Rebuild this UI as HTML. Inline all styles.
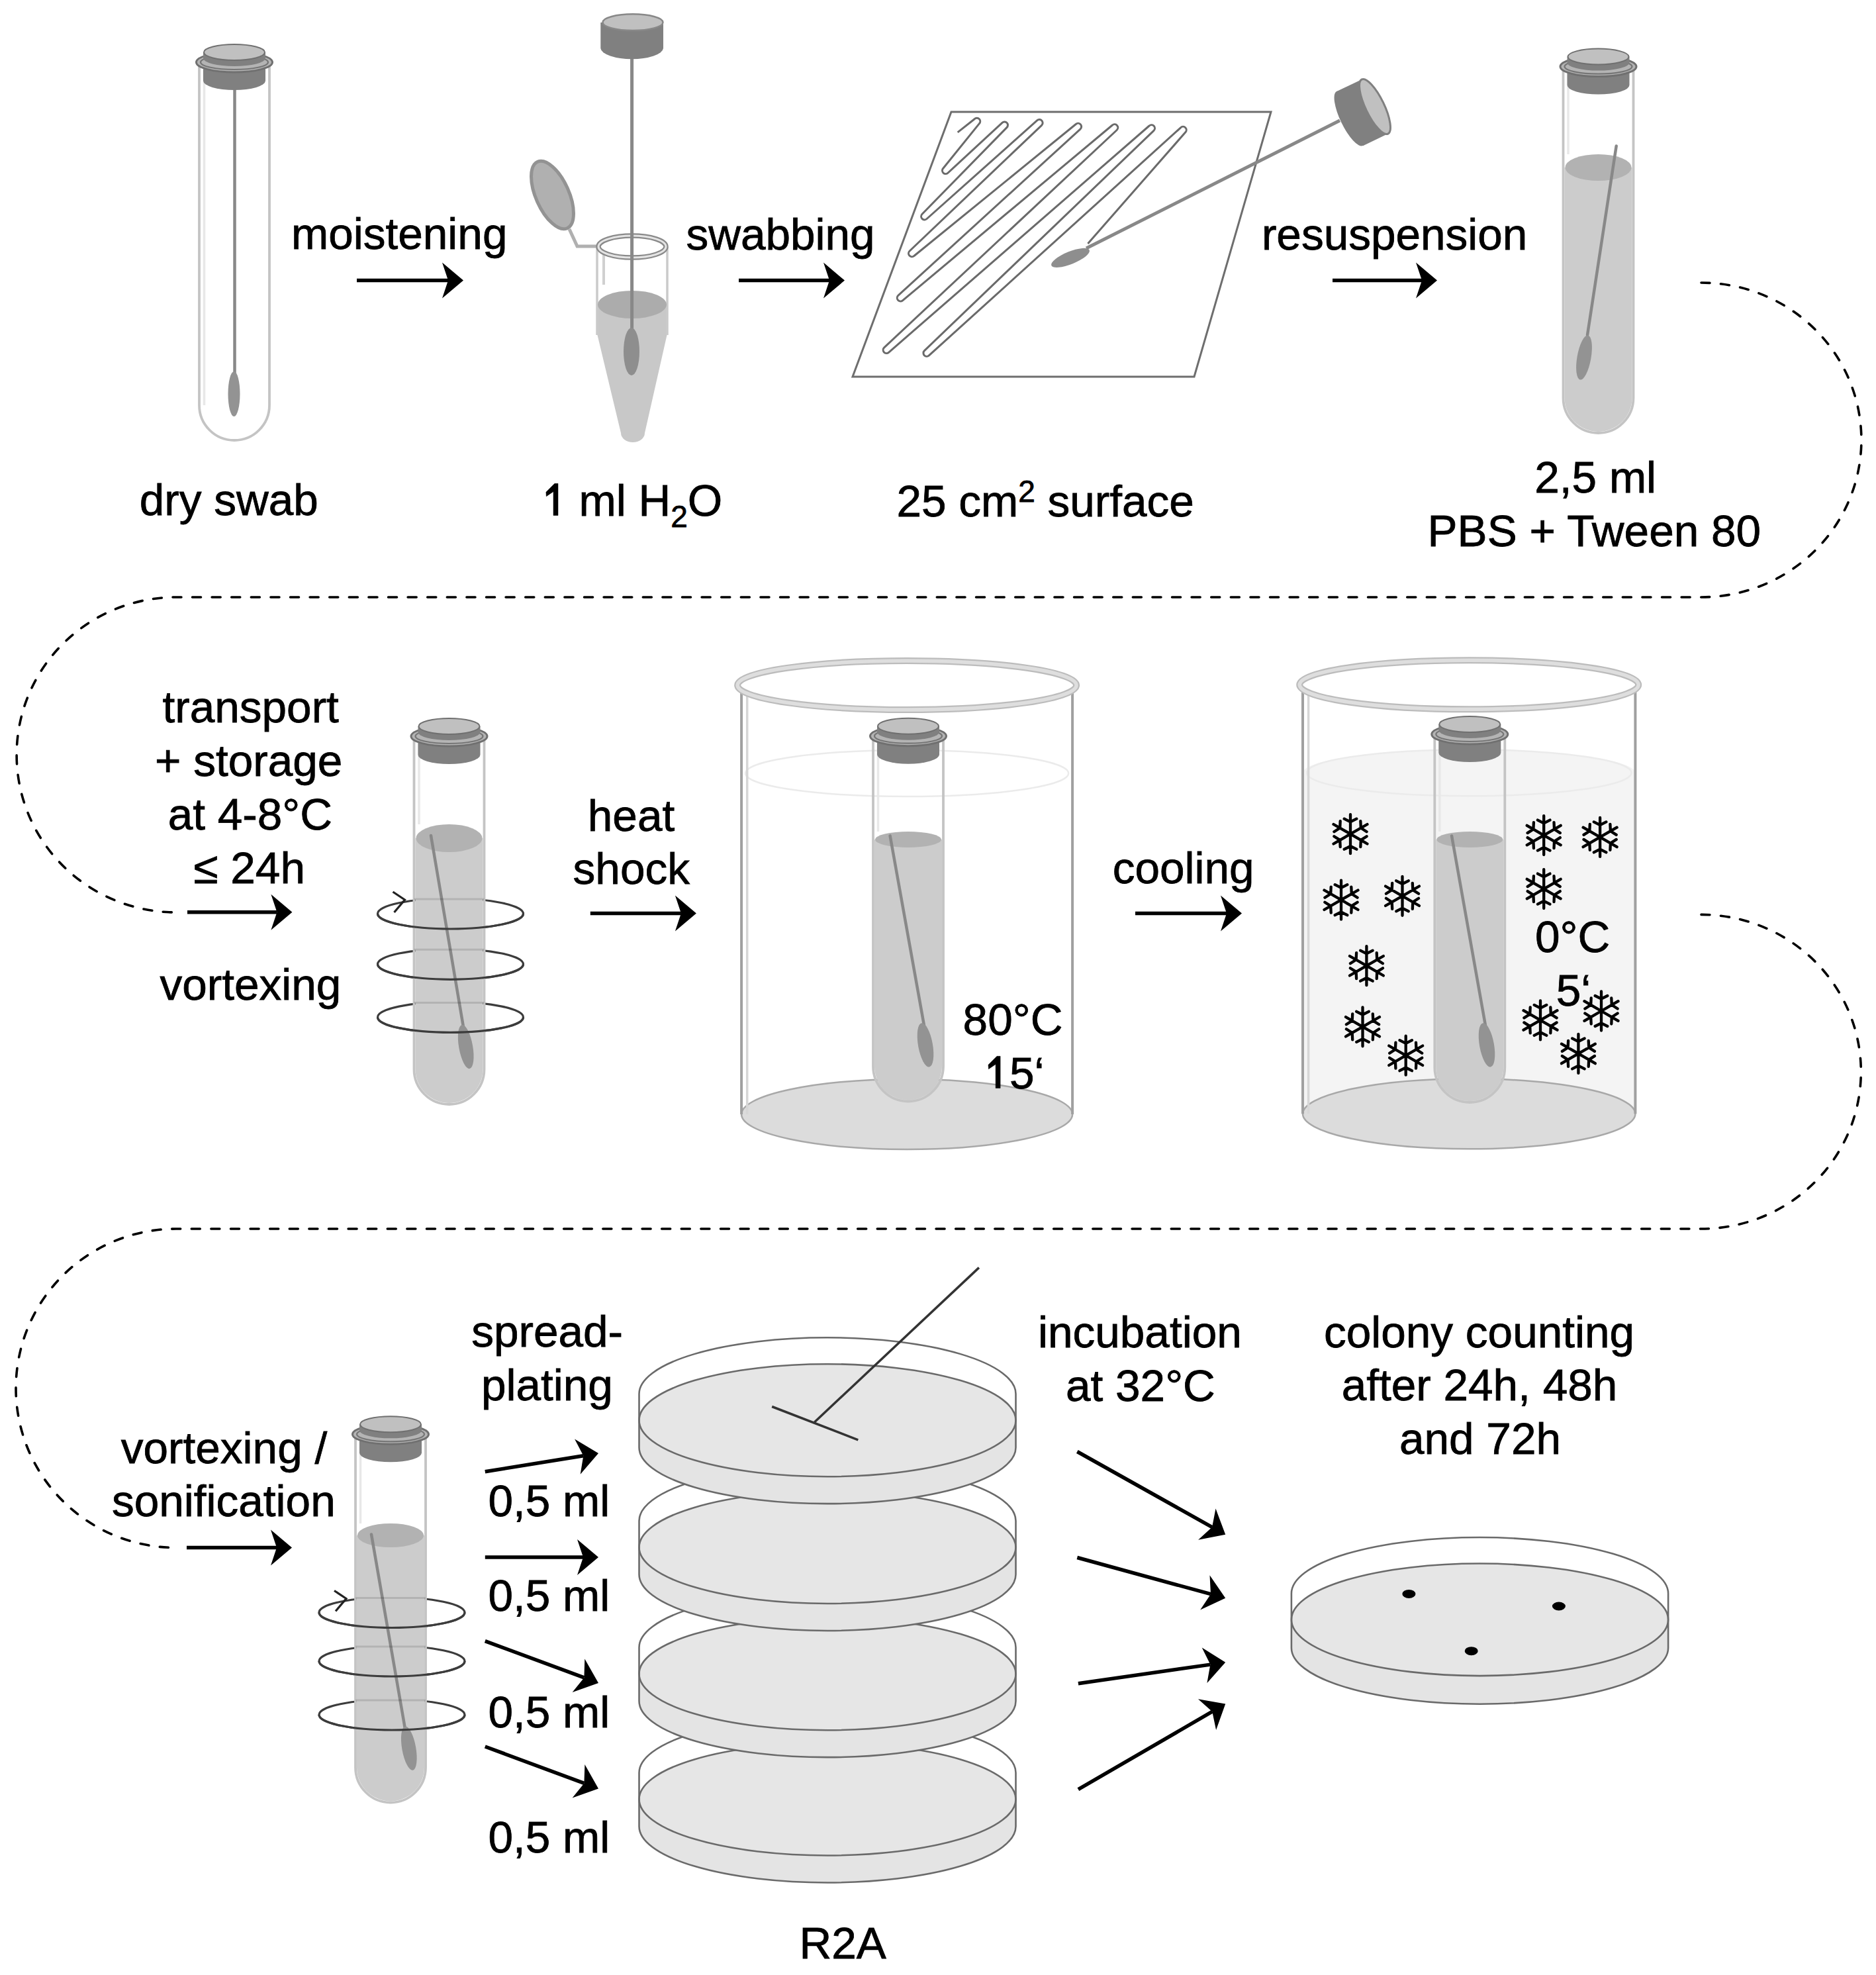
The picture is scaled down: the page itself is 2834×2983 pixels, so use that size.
<!DOCTYPE html>
<html><head><meta charset="utf-8"><style>
html,body{margin:0;padding:0;background:#fff;}
svg{display:block;}
text{font-family:"Liberation Sans",sans-serif;fill:#000;stroke:#000;stroke-width:0.8px;}
</style></head><body>
<svg width="2834" height="2983" viewBox="0 0 2834 2983">
<rect width="2834" height="2983" fill="#fff"/>
<path d="M2570,427 A242,237.5 0 0 1 2570,902 L266,902 A241,238.0 0 0 0 266,1378" fill="none" stroke="#000" stroke-width="3.6" stroke-dasharray="13 16.6" stroke-linecap="round"/>
<path d="M2570,1381.4 A241.5,237.29999999999995 0 0 1 2570,1856 L266,1856 A242,240.79999999999995 0 0 0 266,2337.6" fill="none" stroke="#000" stroke-width="3.6" stroke-dasharray="13 16.6" stroke-linecap="round"/>
<path d="M301,97 L301,612 A53,53 0 0 0 407,612 L407,97" fill="none" stroke="#c4c4c4" stroke-width="3.8"/>
<path d="M308.5,105 L308.5,612" fill="none" stroke="#e8e8e8" stroke-width="3.5"/>
<line x1="354.5" y1="130" x2="354.5" y2="570" stroke="#888888" stroke-width="4.5" stroke-linecap="round"/>
<ellipse cx="353.5" cy="595" rx="9" ry="34" fill="#939393" transform="rotate(0 353.5 595)"/>
<path d="M307,95 L307,122 A47,14 0 0 0 401,122 L401,95 Z" fill="#808080"/>
<ellipse cx="354" cy="94" rx="57.5" ry="15" fill="#b4b4b4" stroke="#707070" stroke-width="3"/>
<ellipse cx="354" cy="94" rx="51" ry="11" fill="none" stroke="#767676" stroke-width="2.2"/>
<path d="M307,79 L307,88 A47,12 0 0 0 401,88 L401,79 Z" fill="#808080"/>
<ellipse cx="354" cy="79" rx="46" ry="12" fill="#c0c0c0" stroke="#707070" stroke-width="2"/>
<text x="440" y="376.2" font-size="67.5">moistening</text>
<line x1="539" y1="423.5" x2="677" y2="423.5" stroke="#000" stroke-width="5.5"/>
<path d="M700,423.5 L668,396.5 L677,423.5 L668,450.5 Z" fill="#000"/>
<path d="M860,346 L872,372 L903,372" fill="none" stroke="#b0b0b0" stroke-width="5"/>
<ellipse cx="834.5" cy="294.5" rx="25" ry="55" fill="#b0b0b0" stroke="#939393" stroke-width="5" transform="rotate(-24 834.5 294.5)"/>
<path d="M902,460 L902,504 L938,654 A18,14 0 0 0 974,654 L1008,504 L1008,460 Z" fill="#c8c8c8"/>
<path d="M902,373 L902,506 M1008,373 L1008,506" stroke="#cacaca" stroke-width="3.5" fill="none"/>
<path d="M912,385 L912,430" stroke="#d0d0d0" stroke-width="4" fill="none"/>
<ellipse cx="955" cy="460" rx="52" ry="21" fill="#acacac"/>
<ellipse cx="955" cy="372.6" rx="51" ry="16.5" fill="none" stroke="#8a8a8a" stroke-width="7.5"/>
<ellipse cx="955" cy="372.6" rx="51" ry="16.5" fill="none" stroke="#e4e4e4" stroke-width="3"/>
<line x1="954.6" y1="85" x2="954.6" y2="500" stroke="#888888" stroke-width="5"/>
<ellipse cx="954" cy="531" rx="12" ry="36" fill="#8e8e8e"/>
<path d="M907.3,34 L907.3,73 A47.4,17 0 0 0 1002,73 L1002,34 Z" fill="#808080"/>
<ellipse cx="956" cy="33.7" rx="45.5" ry="12.4" fill="#c0c0c0" stroke="#888" stroke-width="2.5"/>
<text x="1036.4" y="377.1" font-size="67.5">swabbing</text>
<line x1="1116" y1="423.5" x2="1253" y2="423.5" stroke="#000" stroke-width="5.5"/>
<path d="M1276,423.5 L1244,396.5 L1253,423.5 L1244,450.5 Z" fill="#000"/>
<path d="M1437,169 L1920,169 L1804,569 L1288,569 Z" fill="none" stroke="#6e6e6e" stroke-width="3"/>
<path d="M1446.7,199.9 L1472.2,179.7 A5.0,5.0 0 0 1 1479.2,186.9 L1424.8,254.2 A5.0,5.0 0 0 0 1432.2,261 L1514,185.3 A5.0,5.0 0 0 1 1520.9,192.6 L1393.1,323.3 A5.0,5.0 0 0 0 1400.1,330.5 L1566.7,181.9 A5.0,5.0 0 0 1 1573.5,189.3 L1374.2,379 A5.0,5.0 0 0 0 1380.9,386.5 L1625.3,187.5 A5.0,5.0 0 0 1 1631.9,195.1 L1357,446.2 A5.0,5.0 0 0 0 1363.6,453.8 L1680.4,189 A5.0,5.0 0 0 1 1687.1,196.5 L1335.8,524.8 A5.0,5.0 0 0 0 1342.5,532.3 L1736.1,190 A5.0,5.0 0 0 1 1742.9,197.4 L1396.5,529.6 A5.0,5.0 0 0 0 1403.4,536.9 L1783.6,192.8 A5.0,5.0 0 0 1 1790.8,199.8 L1643.4,367.9" fill="none" stroke="#6a6a6a" stroke-width="3" stroke-linejoin="round"/>
<line x1="1641" y1="375" x2="2024" y2="182" stroke="#888" stroke-width="5"/>
<ellipse cx="1617" cy="389.4" rx="31" ry="9.5" fill="#8e8e8e" transform="rotate(-22 1617 389.4)"/>
<ellipse cx="2039" cy="179" rx="14" ry="45.6" fill="#808080" transform="rotate(-25.7 2039 179)"/>
<path d="M2057.2,119.9 L2019.4,138.1 L2059,220.3 L2096.8,202.1 Z" fill="#808080"/>
<ellipse cx="2077" cy="161" rx="14" ry="45.6" fill="#c0c0c0" stroke="#808080" stroke-width="3" transform="rotate(-25.7 2077 161)"/>
<text x="1905.9" y="377" font-size="67.5">resuspension</text>
<line x1="2013" y1="423.5" x2="2148" y2="423.5" stroke="#000" stroke-width="5.5"/>
<path d="M2171,423.5 L2139,396.5 L2148,423.5 L2139,450.5 Z" fill="#000"/>
<path d="M2363.5,253 L2363.5,601 A51,51 0 0 0 2465.5,601 L2465.5,253 Z" fill="#cccccc"/>
<ellipse cx="2414.5" cy="253" rx="50" ry="20" fill="#b2b2b2"/>
<path d="M2361.5,103.6 L2361.5,601 A53,53 0 0 0 2467.5,601 L2467.5,103.6" fill="none" stroke="#c4c4c4" stroke-width="3.8"/>
<path d="M2369,111.6 L2369,233" fill="none" stroke="#e8e8e8" stroke-width="3.5"/>
<line x1="2441.7" y1="220.5" x2="2398" y2="506" stroke="#888888" stroke-width="4.5" stroke-linecap="round"/>
<ellipse cx="2393" cy="540" rx="10.5" ry="34" fill="#939393" transform="rotate(10 2393 540)"/>
<path d="M2367.5,101.6 L2367.5,128.6 A47,14 0 0 0 2461.5,128.6 L2461.5,101.6 Z" fill="#808080"/>
<ellipse cx="2414.5" cy="100.6" rx="57.5" ry="15" fill="#b4b4b4" stroke="#707070" stroke-width="3"/>
<ellipse cx="2414.5" cy="100.6" rx="51" ry="11" fill="none" stroke="#767676" stroke-width="2.2"/>
<path d="M2367.5,85.6 L2367.5,94.6 A47,12 0 0 0 2461.5,94.6 L2461.5,85.6 Z" fill="#808080"/>
<ellipse cx="2414.5" cy="85.6" rx="46" ry="12" fill="#c0c0c0" stroke="#707070" stroke-width="2"/>
<text x="210.8" y="778.4" font-size="67.5">dry swab</text>
<path d="M843,730.3 L843,778.5 L836,778.5 L836,742.5 L825.3,749.7 L824.9,743.3 L837.9,730.3 Z" fill="#000" stroke="#000" stroke-width="0.5"/>
<text x="874.5" y="778.5" font-size="67.5">ml H<tspan font-size="46" dy="17">2</tspan><tspan dy="-17">O</tspan></text>
<text x="1354.4" y="780" font-size="67.5">25 cm<tspan font-size="46" dy="-22">2</tspan><tspan dy="22"> surface</tspan></text>
<text x="2318.3" y="744" font-size="67.5">2,5 ml</text>
<text x="2156.6" y="824.6" font-size="67.5">PBS + Tween 80</text>
<text x="245.5" y="1091.3" font-size="67.5">transport</text>
<text x="234" y="1171.5" font-size="67.5">+ storage</text>
<text x="253.7" y="1253" font-size="67.5">at 4-8°C</text>
<text x="292.5" y="1334" font-size="67.5">≤ 24h</text>
<line x1="283" y1="1377.7" x2="418.4" y2="1377.7" stroke="#000" stroke-width="5.5"/>
<path d="M441.4,1377.7 L409.4,1350.7 L418.4,1377.7 L409.4,1404.7 Z" fill="#000"/>
<text x="241.5" y="1510.3" font-size="67.5">vortexing</text>
<ellipse cx="680.5" cy="1380" rx="110" ry="23" fill="none" stroke="#3c3c3c" stroke-width="3.2"/>
<ellipse cx="680.5" cy="1456.3" rx="110" ry="23" fill="none" stroke="#3c3c3c" stroke-width="3.2"/>
<ellipse cx="680.5" cy="1536.4" rx="110" ry="23" fill="none" stroke="#3c3c3c" stroke-width="3.2"/>
<path d="M627.5,1266 L627.5,1615 A51,51 0 0 0 729.5,1615 L729.5,1266 Z" fill="#cccccc"/>
<ellipse cx="678.5" cy="1266" rx="50" ry="21" fill="#b2b2b2"/>
<path d="M625.5,1115 L625.5,1615 A53,53 0 0 0 731.5,1615 L731.5,1115" fill="none" stroke="#c4c4c4" stroke-width="3.8"/>
<path d="M633,1123 L633,1245" fill="none" stroke="#e8e8e8" stroke-width="3.5"/>
<line x1="651" y1="1262" x2="701" y2="1557" stroke="#888888" stroke-width="4.5" stroke-linecap="round"/>
<ellipse cx="703.7" cy="1581" rx="10.5" ry="33.6" fill="#939393" transform="rotate(-10 703.7 1581)"/>
<path d="M625.5,1358 L731.5,1358" stroke="#000" stroke-opacity="0.12" stroke-width="3"/>
<path d="M570.5,1380 A110,23 0 0 0 790.5,1380" fill="none" stroke="#3c3c3c" stroke-width="3.2"/>
<path d="M625.5,1434.3 L731.5,1434.3" stroke="#000" stroke-opacity="0.12" stroke-width="3"/>
<path d="M570.5,1456.3 A110,23 0 0 0 790.5,1456.3" fill="none" stroke="#3c3c3c" stroke-width="3.2"/>
<path d="M625.5,1514.4 L731.5,1514.4" stroke="#000" stroke-opacity="0.12" stroke-width="3"/>
<path d="M570.5,1536.4 A110,23 0 0 0 790.5,1536.4" fill="none" stroke="#3c3c3c" stroke-width="3.2"/>
<path d="M593.5,1347 L611.5,1359 L595.5,1378" fill="none" stroke="#222" stroke-width="3.2"/>
<path d="M631.5,1113 L631.5,1140 A47,14 0 0 0 725.5,1140 L725.5,1113 Z" fill="#808080"/>
<ellipse cx="678.5" cy="1112" rx="57.5" ry="15" fill="#b4b4b4" stroke="#707070" stroke-width="3"/>
<ellipse cx="678.5" cy="1112" rx="51" ry="11" fill="none" stroke="#767676" stroke-width="2.2"/>
<path d="M631.5,1097 L631.5,1106 A47,12 0 0 0 725.5,1106 L725.5,1097 Z" fill="#808080"/>
<ellipse cx="678.5" cy="1097" rx="46" ry="12" fill="#c0c0c0" stroke="#707070" stroke-width="2"/>
<text x="887.8" y="1254.8" font-size="67.5">heat</text>
<text x="865.6" y="1335.4" font-size="67.5">shock</text>
<line x1="891.8" y1="1379.5" x2="1028.9" y2="1379.5" stroke="#000" stroke-width="5.5"/>
<path d="M1051.9,1379.5 L1019.9,1352.5 L1028.9,1379.5 L1019.9,1406.5 Z" fill="#000"/>
<ellipse cx="1370.1" cy="1683" rx="250" ry="53" fill="#dcdcdc" stroke="#a8a8a8" stroke-width="2.5"/>
<ellipse cx="1370.1" cy="1168" rx="244" ry="35" fill="none" stroke="#ebebeb" stroke-width="2.5"/>
<line x1="1120.1" y1="1045" x2="1120.1" y2="1683" stroke="#a0a0a0" stroke-width="4"/>
<line x1="1128.7" y1="1047" x2="1128.7" y2="1683" stroke="#d6d6d6" stroke-width="3.5"/>
<line x1="1620.1" y1="1045" x2="1620.1" y2="1683" stroke="#a0a0a0" stroke-width="4"/>
<ellipse cx="1370.1" cy="1035" rx="256" ry="37" fill="none" stroke="#bcbcbc" stroke-width="10"/>
<ellipse cx="1370.1" cy="1035" rx="256" ry="37" fill="none" stroke="#dedede" stroke-width="5.5"/>
<path d="M1321,1268 L1321,1610.5 A51,51 0 0 0 1423,1610.5 L1423,1268 Z" fill="#cccccc"/>
<ellipse cx="1372" cy="1268" rx="50" ry="12" fill="#b2b2b2"/>
<path d="M1319,1114.7 L1319,1610.5 A53,53 0 0 0 1425,1610.5 L1425,1114.7" fill="none" stroke="#c4c4c4" stroke-width="3.8"/>
<path d="M1326.5,1122.7 L1326.5,1256" fill="none" stroke="#e8e8e8" stroke-width="3.5"/>
<line x1="1344.6" y1="1262.4" x2="1396" y2="1548.8" stroke="#888888" stroke-width="4.5" stroke-linecap="round"/>
<ellipse cx="1398" cy="1578.4" rx="11" ry="33.6" fill="#939393" transform="rotate(-10 1398 1578.4)"/>
<path d="M1325,1112.7 L1325,1139.7 A47,14 0 0 0 1419,1139.7 L1419,1112.7 Z" fill="#808080"/>
<ellipse cx="1372" cy="1111.7" rx="57.5" ry="15" fill="#b4b4b4" stroke="#707070" stroke-width="3"/>
<ellipse cx="1372" cy="1111.7" rx="51" ry="11" fill="none" stroke="#767676" stroke-width="2.2"/>
<path d="M1325,1096.7 L1325,1105.7 A47,12 0 0 0 1419,1105.7 L1419,1096.7 Z" fill="#808080"/>
<ellipse cx="1372" cy="1096.7" rx="46" ry="12" fill="#c0c0c0" stroke="#707070" stroke-width="2"/>
<text x="1454.6" y="1562.6" font-size="67.5">80°C</text>
<path d="M1511.1,1595.3 L1511.1,1643.5 L1504.1,1643.5 L1504.1,1607.5 L1493.4,1614.7 L1493,1608.3 L1506,1595.3 Z" fill="#000" stroke="#000" stroke-width="0.5"/>
<text x="1525" y="1643.5" font-size="67.5">5‘</text>
<text x="1680.7" y="1334" font-size="67.5">cooling</text>
<line x1="1715" y1="1379.5" x2="1853" y2="1379.5" stroke="#000" stroke-width="5.5"/>
<path d="M1876,1379.5 L1844,1352.5 L1853,1379.5 L1844,1406.5 Z" fill="#000"/>
<path d="M1968,1167.3 A251.2,35 0 0 1 2470.4,1167.3 L2470.4,1682.3 A251.2,53 0 0 1 1968,1682.3 Z" fill="#f4f4f4"/>
<ellipse cx="2219.2" cy="1682.3" rx="251.2" ry="53" fill="#dcdcdc" stroke="#a8a8a8" stroke-width="2.5"/>
<ellipse cx="2219.2" cy="1167.3" rx="245.2" ry="35" fill="none" stroke="#ebebeb" stroke-width="2.5"/>
<line x1="1968" y1="1044.3" x2="1968" y2="1682.3" stroke="#a0a0a0" stroke-width="4"/>
<line x1="1976.6" y1="1046.3" x2="1976.6" y2="1682.3" stroke="#d6d6d6" stroke-width="3.5"/>
<line x1="2470.4" y1="1044.3" x2="2470.4" y2="1682.3" stroke="#a0a0a0" stroke-width="4"/>
<ellipse cx="2219.2" cy="1034.3" rx="256" ry="37" fill="none" stroke="#bcbcbc" stroke-width="10"/>
<ellipse cx="2219.2" cy="1034.3" rx="256" ry="37" fill="none" stroke="#dedede" stroke-width="5.5"/>
<path d="M2169.3,1268 L2169.3,1612 A51,51 0 0 0 2271.3,1612 L2271.3,1268 Z" fill="#cccccc"/>
<ellipse cx="2220.3" cy="1268" rx="50" ry="12" fill="#b2b2b2"/>
<path d="M2167.3,1112 L2167.3,1612 A53,53 0 0 0 2273.3,1612 L2273.3,1112" fill="none" stroke="#c4c4c4" stroke-width="3.8"/>
<path d="M2174.8,1120 L2174.8,1256" fill="none" stroke="#e8e8e8" stroke-width="3.5"/>
<line x1="2193" y1="1262.4" x2="2244" y2="1548.8" stroke="#888888" stroke-width="4.5" stroke-linecap="round"/>
<ellipse cx="2246" cy="1578.4" rx="11" ry="33.6" fill="#939393" transform="rotate(-10 2246 1578.4)"/>
<path d="M2173.3,1110 L2173.3,1137 A47,14 0 0 0 2267.3,1137 L2267.3,1110 Z" fill="#808080"/>
<ellipse cx="2220.3" cy="1109" rx="57.5" ry="15" fill="#b4b4b4" stroke="#707070" stroke-width="3"/>
<ellipse cx="2220.3" cy="1109" rx="51" ry="11" fill="none" stroke="#767676" stroke-width="2.2"/>
<path d="M2173.3,1094 L2173.3,1103 A47,12 0 0 0 2267.3,1103 L2267.3,1094 Z" fill="#808080"/>
<ellipse cx="2220.3" cy="1094" rx="46" ry="12" fill="#c0c0c0" stroke="#707070" stroke-width="2"/>
<path d="M2040,1259.7 L2040,1230.2 M2040,1241.4 L2030.7,1236.7 M2040,1241.4 L2049.3,1236.7 M2040,1259.7 L2065.5,1245 M2055.8,1250.5 L2055.3,1240.2 M2055.8,1250.5 L2064.6,1256.2 M2040,1259.7 L2065.5,1274.5 M2055.8,1268.9 L2064.6,1263.2 M2055.8,1268.9 L2055.3,1279.2 M2040,1259.7 L2040,1289.2 M2040,1278 L2049.3,1282.7 M2040,1278 L2030.7,1282.7 M2040,1259.7 L2014.5,1274.5 M2024.2,1268.9 L2024.7,1279.2 M2024.2,1268.9 L2015.4,1263.2 M2040,1259.7 L2014.5,1245 M2024.2,1250.5 L2015.4,1256.2 M2024.2,1250.5 L2024.7,1240.2" stroke="#000" stroke-width="4.3" stroke-linecap="round" fill="none"/>
<path d="M2026,1359.2 L2026,1329.7 M2026,1340.9 L2016.7,1336.2 M2026,1340.9 L2035.3,1336.2 M2026,1359.2 L2051.5,1344.5 M2041.8,1350 L2041.3,1339.7 M2041.8,1350 L2050.6,1355.7 M2026,1359.2 L2051.5,1374 M2041.8,1368.4 L2050.6,1362.7 M2041.8,1368.4 L2041.3,1378.7 M2026,1359.2 L2026,1388.7 M2026,1377.5 L2035.3,1382.2 M2026,1377.5 L2016.7,1382.2 M2026,1359.2 L2000.5,1374 M2010.2,1368.4 L2010.7,1378.7 M2010.2,1368.4 L2001.4,1362.7 M2026,1359.2 L2000.5,1344.5 M2010.2,1350 L2001.4,1355.7 M2010.2,1350 L2010.7,1339.7" stroke="#000" stroke-width="4.3" stroke-linecap="round" fill="none"/>
<path d="M2118.5,1353.3 L2118.5,1323.8 M2118.5,1335 L2109.2,1330.3 M2118.5,1335 L2127.8,1330.3 M2118.5,1353.3 L2144,1338.5 M2134.3,1344.1 L2133.8,1333.8 M2134.3,1344.1 L2143.1,1349.8 M2118.5,1353.3 L2144,1368 M2134.3,1362.5 L2143.1,1356.8 M2134.3,1362.5 L2133.8,1372.8 M2118.5,1353.3 L2118.5,1382.8 M2118.5,1371.6 L2127.8,1376.3 M2118.5,1371.6 L2109.2,1376.3 M2118.5,1353.3 L2093,1368 M2102.7,1362.5 L2103.2,1372.8 M2102.7,1362.5 L2093.9,1356.8 M2118.5,1353.3 L2093,1338.5 M2102.7,1344.1 L2093.9,1349.8 M2102.7,1344.1 L2103.2,1333.8" stroke="#000" stroke-width="4.3" stroke-linecap="round" fill="none"/>
<path d="M2064.4,1458.7 L2064.4,1429.2 M2064.4,1440.4 L2055.1,1435.7 M2064.4,1440.4 L2073.7,1435.7 M2064.4,1458.7 L2089.9,1444 M2080.2,1449.5 L2079.7,1439.2 M2080.2,1449.5 L2089,1455.2 M2064.4,1458.7 L2089.9,1473.5 M2080.2,1467.9 L2089,1462.2 M2080.2,1467.9 L2079.7,1478.2 M2064.4,1458.7 L2064.4,1488.2 M2064.4,1477 L2073.7,1481.7 M2064.4,1477 L2055.1,1481.7 M2064.4,1458.7 L2038.9,1473.5 M2048.6,1467.9 L2049.1,1478.2 M2048.6,1467.9 L2039.8,1462.2 M2064.4,1458.7 L2038.9,1444 M2048.6,1449.5 L2039.8,1455.2 M2048.6,1449.5 L2049.1,1439.2" stroke="#000" stroke-width="4.3" stroke-linecap="round" fill="none"/>
<path d="M2058.5,1550.8 L2058.5,1521.3 M2058.5,1532.5 L2049.2,1527.8 M2058.5,1532.5 L2067.8,1527.8 M2058.5,1550.8 L2084,1536 M2074.3,1541.6 L2073.8,1531.3 M2074.3,1541.6 L2083.1,1547.3 M2058.5,1550.8 L2084,1565.5 M2074.3,1560 L2083.1,1554.3 M2074.3,1560 L2073.8,1570.3 M2058.5,1550.8 L2058.5,1580.3 M2058.5,1569.1 L2067.8,1573.8 M2058.5,1569.1 L2049.2,1573.8 M2058.5,1550.8 L2033,1565.5 M2042.7,1560 L2043.2,1570.3 M2042.7,1560 L2033.9,1554.3 M2058.5,1550.8 L2033,1536 M2042.7,1541.6 L2033.9,1547.3 M2042.7,1541.6 L2043.2,1531.3" stroke="#000" stroke-width="4.3" stroke-linecap="round" fill="none"/>
<path d="M2123.7,1594.2 L2123.7,1564.7 M2123.7,1575.9 L2114.4,1571.2 M2123.7,1575.9 L2133,1571.2 M2123.7,1594.2 L2149.2,1579.5 M2139.5,1585 L2139,1574.7 M2139.5,1585 L2148.3,1590.7 M2123.7,1594.2 L2149.2,1609 M2139.5,1603.4 L2148.3,1597.7 M2139.5,1603.4 L2139,1613.7 M2123.7,1594.2 L2123.7,1623.7 M2123.7,1612.5 L2133,1617.2 M2123.7,1612.5 L2114.4,1617.2 M2123.7,1594.2 L2098.2,1609 M2107.9,1603.4 L2108.4,1613.7 M2107.9,1603.4 L2099.1,1597.7 M2123.7,1594.2 L2098.2,1579.5 M2107.9,1585 L2099.1,1590.7 M2107.9,1585 L2108.4,1574.7" stroke="#000" stroke-width="4.3" stroke-linecap="round" fill="none"/>
<path d="M2332.2,1261.6 L2332.2,1232.1 M2332.2,1243.3 L2322.9,1238.6 M2332.2,1243.3 L2341.5,1238.6 M2332.2,1261.6 L2357.7,1246.8 M2348,1252.4 L2347.5,1242.1 M2348,1252.4 L2356.8,1258.1 M2332.2,1261.6 L2357.7,1276.3 M2348,1270.8 L2356.8,1265.1 M2348,1270.8 L2347.5,1281.1 M2332.2,1261.6 L2332.2,1291.1 M2332.2,1279.9 L2341.5,1284.6 M2332.2,1279.9 L2322.9,1284.6 M2332.2,1261.6 L2306.7,1276.3 M2316.4,1270.8 L2316.9,1281.1 M2316.4,1270.8 L2307.6,1265.1 M2332.2,1261.6 L2306.7,1246.8 M2316.4,1252.4 L2307.6,1258.1 M2316.4,1252.4 L2316.9,1242.1" stroke="#000" stroke-width="4.3" stroke-linecap="round" fill="none"/>
<path d="M2417.1,1264.4 L2417.1,1234.9 M2417.1,1246.1 L2407.8,1241.4 M2417.1,1246.1 L2426.4,1241.4 M2417.1,1264.4 L2442.6,1249.7 M2432.9,1255.2 L2432.4,1244.9 M2432.9,1255.2 L2441.7,1260.9 M2417.1,1264.4 L2442.6,1279.2 M2432.9,1273.6 L2441.7,1267.9 M2432.9,1273.6 L2432.4,1283.9 M2417.1,1264.4 L2417.1,1293.9 M2417.1,1282.7 L2426.4,1287.4 M2417.1,1282.7 L2407.8,1287.4 M2417.1,1264.4 L2391.6,1279.2 M2401.3,1273.6 L2401.8,1283.9 M2401.3,1273.6 L2392.5,1267.9 M2417.1,1264.4 L2391.6,1249.7 M2401.3,1255.2 L2392.5,1260.9 M2401.3,1255.2 L2401.8,1244.9" stroke="#000" stroke-width="4.3" stroke-linecap="round" fill="none"/>
<path d="M2332.2,1342.6 L2332.2,1313.1 M2332.2,1324.3 L2322.9,1319.6 M2332.2,1324.3 L2341.5,1319.6 M2332.2,1342.6 L2357.7,1327.8 M2348,1333.4 L2347.5,1323.1 M2348,1333.4 L2356.8,1339.1 M2332.2,1342.6 L2357.7,1357.3 M2348,1351.8 L2356.8,1346.1 M2348,1351.8 L2347.5,1362.1 M2332.2,1342.6 L2332.2,1372.1 M2332.2,1360.9 L2341.5,1365.6 M2332.2,1360.9 L2322.9,1365.6 M2332.2,1342.6 L2306.7,1357.3 M2316.4,1351.8 L2316.9,1362.1 M2316.4,1351.8 L2307.6,1346.1 M2332.2,1342.6 L2306.7,1327.8 M2316.4,1333.4 L2307.6,1339.1 M2316.4,1333.4 L2316.9,1323.1" stroke="#000" stroke-width="4.3" stroke-linecap="round" fill="none"/>
<path d="M2327,1540.9 L2327,1511.4 M2327,1522.6 L2317.7,1517.9 M2327,1522.6 L2336.3,1517.9 M2327,1540.9 L2352.5,1526.2 M2342.8,1531.8 L2342.3,1521.4 M2342.8,1531.8 L2351.6,1537.4 M2327,1540.9 L2352.5,1555.7 M2342.8,1550.1 L2351.6,1544.4 M2342.8,1550.1 L2342.3,1560.4 M2327,1540.9 L2327,1570.4 M2327,1559.2 L2336.3,1563.9 M2327,1559.2 L2317.7,1563.9 M2327,1540.9 L2301.5,1555.7 M2311.2,1550.1 L2311.7,1560.4 M2311.2,1550.1 L2302.4,1544.4 M2327,1540.9 L2301.5,1526.2 M2311.2,1531.8 L2302.4,1537.4 M2311.2,1531.8 L2311.7,1521.4" stroke="#000" stroke-width="4.3" stroke-linecap="round" fill="none"/>
<path d="M2419,1527 L2419,1497.5 M2419,1508.7 L2409.7,1504 M2419,1508.7 L2428.3,1504 M2419,1527 L2444.5,1512.2 M2434.8,1517.8 L2434.3,1507.5 M2434.8,1517.8 L2443.6,1523.5 M2419,1527 L2444.5,1541.8 M2434.8,1536.2 L2443.6,1530.5 M2434.8,1536.2 L2434.3,1546.5 M2419,1527 L2419,1556.5 M2419,1545.3 L2428.3,1550 M2419,1545.3 L2409.7,1550 M2419,1527 L2393.5,1541.8 M2403.2,1536.2 L2403.7,1546.5 M2403.2,1536.2 L2394.4,1530.5 M2419,1527 L2393.5,1512.2 M2403.2,1517.8 L2394.4,1523.5 M2403.2,1517.8 L2403.7,1507.5" stroke="#000" stroke-width="4.3" stroke-linecap="round" fill="none"/>
<path d="M2384.4,1591.4 L2384.4,1561.9 M2384.4,1573.1 L2375.1,1568.4 M2384.4,1573.1 L2393.7,1568.4 M2384.4,1591.4 L2409.9,1576.7 M2400.2,1582.2 L2399.7,1571.9 M2400.2,1582.2 L2409,1587.9 M2384.4,1591.4 L2409.9,1606.2 M2400.2,1600.6 L2409,1594.9 M2400.2,1600.6 L2399.7,1610.9 M2384.4,1591.4 L2384.4,1620.9 M2384.4,1609.7 L2393.7,1614.4 M2384.4,1609.7 L2375.1,1614.4 M2384.4,1591.4 L2358.9,1606.2 M2368.6,1600.6 L2369.1,1610.9 M2368.6,1600.6 L2359.8,1594.9 M2384.4,1591.4 L2358.9,1576.7 M2368.6,1582.2 L2359.8,1587.9 M2368.6,1582.2 L2369.1,1571.9" stroke="#000" stroke-width="4.3" stroke-linecap="round" fill="none"/>
<text x="2319" y="1438.2" font-size="67.5">0°C</text>
<text x="2350.8" y="1519" font-size="67.5">5‘</text>
<text x="182.8" y="2210" font-size="67.5">vortexing /</text>
<text x="169" y="2290" font-size="67.5">sonification</text>
<line x1="282" y1="2337.6" x2="418" y2="2337.6" stroke="#000" stroke-width="5.5"/>
<path d="M441,2337.6 L409,2310.6 L418,2337.6 L409,2364.6 Z" fill="#000"/>
<ellipse cx="592" cy="2435.5" rx="110" ry="23" fill="none" stroke="#3c3c3c" stroke-width="3.2"/>
<ellipse cx="592" cy="2509" rx="110" ry="23" fill="none" stroke="#3c3c3c" stroke-width="3.2"/>
<ellipse cx="592" cy="2590" rx="110" ry="23" fill="none" stroke="#3c3c3c" stroke-width="3.2"/>
<path d="M539,2319 L539,2669.5 A51,51 0 0 0 641,2669.5 L641,2319 Z" fill="#cccccc"/>
<ellipse cx="590" cy="2319" rx="50" ry="18" fill="#b2b2b2"/>
<path d="M537,2169.3 L537,2669.5 A53,53 0 0 0 643,2669.5 L643,2169.3" fill="none" stroke="#c4c4c4" stroke-width="3.8"/>
<path d="M544.5,2177.3 L544.5,2301" fill="none" stroke="#e8e8e8" stroke-width="3.5"/>
<line x1="561" y1="2317.5" x2="612.7" y2="2615.3" stroke="#888888" stroke-width="4.5" stroke-linecap="round"/>
<ellipse cx="617.8" cy="2640.6" rx="10.5" ry="33.6" fill="#939393" transform="rotate(-10 617.8 2640.6)"/>
<path d="M537,2413.5 L643,2413.5" stroke="#000" stroke-opacity="0.12" stroke-width="3"/>
<path d="M482,2435.5 A110,23 0 0 0 702,2435.5" fill="none" stroke="#3c3c3c" stroke-width="3.2"/>
<path d="M537,2487 L643,2487" stroke="#000" stroke-opacity="0.12" stroke-width="3"/>
<path d="M482,2509 A110,23 0 0 0 702,2509" fill="none" stroke="#3c3c3c" stroke-width="3.2"/>
<path d="M537,2568 L643,2568" stroke="#000" stroke-opacity="0.12" stroke-width="3"/>
<path d="M482,2590 A110,23 0 0 0 702,2590" fill="none" stroke="#3c3c3c" stroke-width="3.2"/>
<path d="M505,2402.5 L523,2414.5 L507,2433.5" fill="none" stroke="#222" stroke-width="3.2"/>
<path d="M543,2167.3 L543,2194.3 A47,14 0 0 0 637,2194.3 L637,2167.3 Z" fill="#808080"/>
<ellipse cx="590" cy="2166.3" rx="57.5" ry="15" fill="#b4b4b4" stroke="#707070" stroke-width="3"/>
<ellipse cx="590" cy="2166.3" rx="51" ry="11" fill="none" stroke="#767676" stroke-width="2.2"/>
<path d="M543,2151.3 L543,2160.3 A47,12 0 0 0 637,2160.3 L637,2151.3 Z" fill="#808080"/>
<ellipse cx="590" cy="2151.3" rx="46" ry="12" fill="#c0c0c0" stroke="#707070" stroke-width="2"/>
<text x="712.2" y="2034.2" font-size="67.5">spread-</text>
<text x="727" y="2115.4" font-size="67.5">plating</text>
<line x1="732.8" y1="2222.8" x2="881.3" y2="2198.7" stroke="#000" stroke-width="5.5"/>
<path d="M904,2195 L868.1,2173.5 L881.3,2198.7 L876.7,2226.8 Z" fill="#000"/>
<line x1="732.8" y1="2352" x2="881" y2="2352" stroke="#000" stroke-width="5.5"/>
<path d="M904,2352 L872,2325 L881,2352 L872,2379 Z" fill="#000"/>
<line x1="732.8" y1="2478.6" x2="882.4" y2="2533.9" stroke="#000" stroke-width="5.5"/>
<path d="M904,2541.9 L883.3,2505.5 L882.4,2533.9 L864.6,2556.1 Z" fill="#000"/>
<line x1="732.8" y1="2638" x2="882.4" y2="2693.4" stroke="#000" stroke-width="5.5"/>
<path d="M904,2701.4 L883.4,2665 L882.4,2693.4 L864.6,2715.6 Z" fill="#000"/>
<text x="737.4" y="2290.4" font-size="67.5">0,5 ml</text>
<text x="737.4" y="2432.7" font-size="67.5">0,5 ml</text>
<text x="737.4" y="2608.6" font-size="67.5">0,5 ml</text>
<text x="737.4" y="2798.4" font-size="67.5">0,5 ml</text>
<path d="M965.5,2677.5 A284.5,85 0 0 1 1534.5,2677.5 L1534.5,2758.5 A284.5,85 0 0 1 965.5,2758.5 Z" fill="#fff"/>
<path d="M965.5,2717.5 L965.5,2758.5 A284.5,85 0 0 0 1534.5,2758.5 L1534.5,2717.5 Z" fill="#e4e4e4"/>
<ellipse cx="1250" cy="2717.5" rx="284.5" ry="85" fill="#e6e6e6" stroke="#6a6a6a" stroke-width="2.6"/>
<path d="M965.5,2677.5 A284.5,85 0 0 1 1534.5,2677.5 L1534.5,2758.5 A284.5,85 0 0 1 965.5,2758.5 Z" fill="none" stroke="#6a6a6a" stroke-width="2.6"/>
<path d="M965.5,2488.2 A284.5,85 0 0 1 1534.5,2488.2 L1534.5,2569.2 A284.5,85 0 0 1 965.5,2569.2 Z" fill="#fff"/>
<path d="M965.5,2528.2 L965.5,2569.2 A284.5,85 0 0 0 1534.5,2569.2 L1534.5,2528.2 Z" fill="#e4e4e4"/>
<ellipse cx="1250" cy="2528.2" rx="284.5" ry="85" fill="#e6e6e6" stroke="#6a6a6a" stroke-width="2.6"/>
<path d="M965.5,2488.2 A284.5,85 0 0 1 1534.5,2488.2 L1534.5,2569.2 A284.5,85 0 0 1 965.5,2569.2 Z" fill="none" stroke="#6a6a6a" stroke-width="2.6"/>
<path d="M965.5,2297 A284.5,85 0 0 1 1534.5,2297 L1534.5,2378 A284.5,85 0 0 1 965.5,2378 Z" fill="#fff"/>
<path d="M965.5,2337 L965.5,2378 A284.5,85 0 0 0 1534.5,2378 L1534.5,2337 Z" fill="#e4e4e4"/>
<ellipse cx="1250" cy="2337" rx="284.5" ry="85" fill="#e6e6e6" stroke="#6a6a6a" stroke-width="2.6"/>
<path d="M965.5,2297 A284.5,85 0 0 1 1534.5,2297 L1534.5,2378 A284.5,85 0 0 1 965.5,2378 Z" fill="none" stroke="#6a6a6a" stroke-width="2.6"/>
<path d="M965.5,2105.2 A284.5,85 0 0 1 1534.5,2105.2 L1534.5,2186.2 A284.5,85 0 0 1 965.5,2186.2 Z" fill="#fff"/>
<path d="M965.5,2145.2 L965.5,2186.2 A284.5,85 0 0 0 1534.5,2186.2 L1534.5,2145.2 Z" fill="#e4e4e4"/>
<ellipse cx="1250" cy="2145.2" rx="284.5" ry="85" fill="#e6e6e6" stroke="#6a6a6a" stroke-width="2.6"/>
<path d="M965.5,2105.2 A284.5,85 0 0 1 1534.5,2105.2 L1534.5,2186.2 A284.5,85 0 0 1 965.5,2186.2 Z" fill="none" stroke="#6a6a6a" stroke-width="2.6"/>
<line x1="1478.9" y1="1914.6" x2="1230.4" y2="2148" stroke="#333" stroke-width="3.5"/>
<line x1="1166.2" y1="2124.5" x2="1296.3" y2="2174.8" stroke="#333" stroke-width="3.5"/>
<text x="1207.5" y="2957.5" font-size="67.5">R2A</text>
<text x="1568" y="2034.5" font-size="67.5">incubation</text>
<text x="1610" y="2116.3" font-size="67.5">at 32°C</text>
<line x1="1627.3" y1="2192.5" x2="1831.1" y2="2306.6" stroke="#000" stroke-width="5.5"/>
<path d="M1851.2,2317.8 L1836.5,2278.6 L1831.1,2306.6 L1810.1,2325.7 Z" fill="#000"/>
<line x1="1627.3" y1="2352.5" x2="1829" y2="2407.7" stroke="#000" stroke-width="5.5"/>
<path d="M1851.2,2413.8 L1827.5,2379.3 L1829,2407.7 L1813.2,2431.4 Z" fill="#000"/>
<line x1="1628.9" y1="2542.7" x2="1828.4" y2="2514.1" stroke="#000" stroke-width="5.5"/>
<path d="M1851.2,2510.8 L1815.7,2488.6 L1828.4,2514.1 L1823.4,2542.1 Z" fill="#000"/>
<line x1="1628.9" y1="2702.7" x2="1831.3" y2="2585.2" stroke="#000" stroke-width="5.5"/>
<path d="M1851.2,2573.6 L1810,2566.3 L1831.3,2585.2 L1837.1,2613 Z" fill="#000"/>
<text x="2000" y="2035.3" font-size="67.5">colony counting</text>
<text x="2026.7" y="2115" font-size="67.5">after 24h, 48h</text>
<text x="2114" y="2196.3" font-size="67.5">and 72h</text>
<path d="M1950.9,2406.8 A284.6,84.8 0 0 1 2520.1,2406.8 L2520.1,2488.9 A284.6,84.8 0 0 1 1950.9,2488.9 Z" fill="#fff"/>
<path d="M1950.9,2446.3 L1950.9,2488.9 A284.6,84.8 0 0 0 2520.1,2488.9 L2520.1,2446.3 Z" fill="#e4e4e4"/>
<ellipse cx="2235.5" cy="2446.3" rx="284.6" ry="84.8" fill="#e6e6e6" stroke="#6a6a6a" stroke-width="2.6"/>
<path d="M1950.9,2406.8 A284.6,84.8 0 0 1 2520.1,2406.8 L2520.1,2488.9 A284.6,84.8 0 0 1 1950.9,2488.9 Z" fill="none" stroke="#6a6a6a" stroke-width="2.6"/>
<ellipse cx="2128.4" cy="2407.4" rx="10" ry="6.5" fill="#000"/>
<ellipse cx="2354.9" cy="2426" rx="10" ry="6.5" fill="#000"/>
<ellipse cx="2222.7" cy="2493.7" rx="10" ry="6.5" fill="#000"/>
</svg>
</body></html>
